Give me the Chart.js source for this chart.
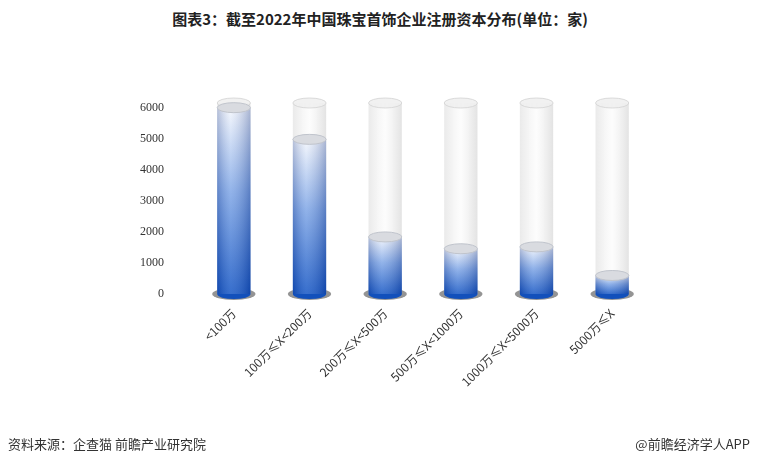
<!DOCTYPE html>
<html>
<head>
<meta charset="utf-8">
<script src="https://cdn.jsdelivr.net/npm/chart.js@4/dist/chart.umd.min.js"></script>
<style>
  body { margin: 0; background: #fff; font-family: "Noto Sans CJK SC", "Noto Sans", sans-serif; }
  #wrap { position: relative; width: 760px; height: 467px; }
  #title { position: absolute; top: 8px; width: 760px; text-align: center; font-size: 15px; font-weight: bold; color: #222; }
  .foot { position: absolute; top: 434px; font-size: 13px; color: #333; }
</style>
</head>
<body>
<div id="wrap">
  <div id="title">图表3：截至2022年中国珠宝首饰企业注册资本分布(单位：家)</div>
  <canvas id="c" width="760" height="467" style="position:absolute;left:0;top:0"></canvas>
  <div class="foot" style="left:8px">资料来源：企查猫 前瞻产业研究院</div>
  <div class="foot" style="right:10px">@前瞻经济学人APP</div>
</div>
<script>
const categories = ['<100万', '100万≤X<200万', '200万≤X<500万', '500万≤X<1000万', '1000万≤X<5000万', '5000万≤X']
const values = [6000, 4980, 1840, 1460, 1520, 600]
const trackValues = [6150, 6150, 6150, 6150, 6150, 6150]
const tickValues = [0, 1000, 2000, 3000, 4000, 5000, 6000]

function ellipse(ctx, x, y, rx, ry, fill, stroke) {
  ctx.beginPath()
  ctx.ellipse(x, y, rx, ry, 0, 0, Math.PI * 2)
  ctx.fillStyle = fill
  ctx.fill()
  if (stroke) { ctx.strokeStyle = stroke; ctx.lineWidth = 1; ctx.stroke() }
}

const cylinders = {
  id: 'cylinders',
  beforeDatasetsDraw(chart) {
    const ctx = chart.ctx
    const meta0 = chart.getDatasetMeta(0)
    const meta1 = chart.getDatasetMeta(1)
    meta0.data.forEach((bar, i) => {
      const w = bar.width, x = bar.x, l = x - w / 2, ry = 5
      // base shadow
      ellipse(ctx, x, bar.base, w / 2 + 5, ry + 1, 'rgba(60,60,60,0.55)')
      // track
      let g = ctx.createLinearGradient(l, 0, l + w, 0)
      g.addColorStop(0, 'rgba(225,225,225,0.7)')
      g.addColorStop(0.5, 'rgba(250,250,250,0.5)')
      g.addColorStop(1, 'rgba(215,215,215,0.7)')
      ctx.fillStyle = g
      ctx.fillRect(l, bar.y, w, bar.base - bar.y)
      ellipse(ctx, x, bar.y, w / 2, ry, 'rgba(240,240,240,0.9)', 'rgba(210,210,210,0.8)')
      // value bar
      const v = meta1.data[i]
      g = ctx.createLinearGradient(0, v.y, 0, v.base)
      g.addColorStop(0, '#f4f7fd')
      g.addColorStop(0.45, '#7fa6e6')
      g.addColorStop(1, '#1455c4')
      ctx.fillStyle = g
      ctx.fillRect(l, v.y, w, v.base - v.y)
      let h = ctx.createLinearGradient(l, 0, l + w, 0)
      h.addColorStop(0, 'rgba(0,30,110,0.25)')
      h.addColorStop(0.4, 'rgba(255,255,255,0.15)')
      h.addColorStop(1, 'rgba(0,30,110,0.3)')
      ctx.fillStyle = h
      ctx.fillRect(l, v.y, w, v.base - v.y)
      ctx.beginPath()
      ctx.ellipse(x, v.base, w / 2, ry, 0, 0, Math.PI)
      ctx.fillStyle = '#1250bb'
      ctx.fill()
      ellipse(ctx, x, v.y, w / 2, ry, '#d9dbe0', '#c0c4cc')
    })
  }
}

new Chart(document.getElementById('c'), {
  type: 'bar',
  data: {
    labels: categories,
    datasets: [
      { data: trackValues, backgroundColor: 'transparent', barPercentage: 0.44, categoryPercentage: 1, grouped: false },
      { data: values, backgroundColor: 'transparent', barPercentage: 0.44, categoryPercentage: 1, grouped: false }
    ]
  },
  options: {
    responsive: false,
    animation: false,
    layout: { padding: { top: 103, left: 116, right: 110, bottom: 74 } },
    plugins: { legend: { display: false }, tooltip: { enabled: false } },
    scales: {
      x: {
        grid: { display: false }, border: { display: false },
        ticks: { color: '#333', font: { size: 12, family: 'Noto Sans CJK SC' }, maxRotation: 45, minRotation: 45, padding: 4 }
      },
      y: {
        min: 0, max: 6150,
        afterBuildTicks: axis => { axis.ticks = tickValues.map(v => ({ value: v })) },
        grid: { display: false }, border: { display: false },
        ticks: { color: '#333', font: { size: 12, family: 'Liberation Serif' }, padding: 24, callback: v => String(v) }
      }
    }
  },
  plugins: [cylinders]
})
</script>
</body>
</html>
